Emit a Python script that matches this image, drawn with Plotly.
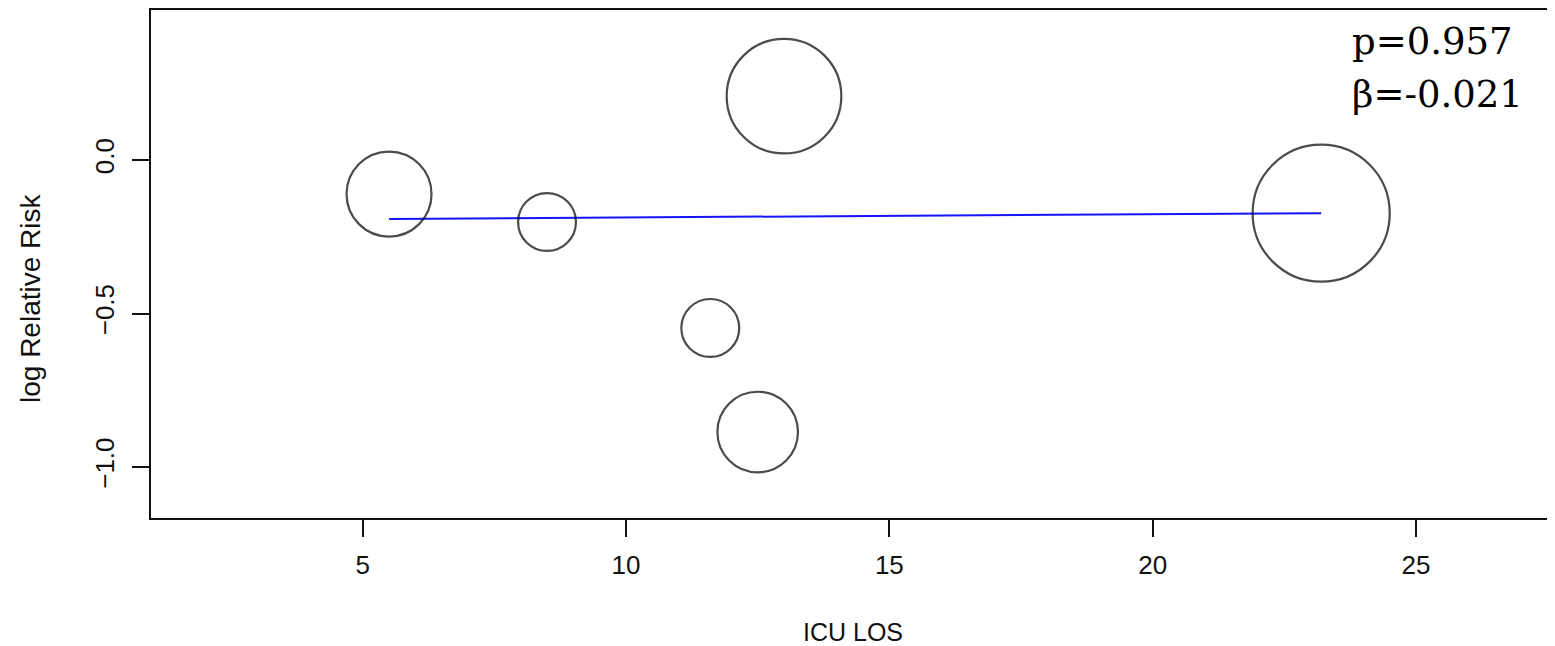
import plotly.graph_objects as go

# Study-level data
icu_los = [5.5, 8.5, 13.0, 11.6, 12.5, 23.2]
log_rr = [-0.111, -0.202, 0.208, -0.547, -0.886, -0.173]
weights = [13.8, 6.4, 25.1, 6.4, 12.4, 35.9]

# Meta-regression fitted line endpoints
fit_x = [5.5, 23.2]
fit_y = [-0.192, -0.173]

x_ticks = [5, 10, 15, 20, 25]
y_ticks = [0.0, -0.5, -1.0]
y_ticklabels = ["0.0", "\u22120.5", "\u22121.0"]

stats_lines = ["p=0.957", "\u03b2=-0.021"]

# page body has an 8px margin, so the figure is shifted by 8px
OFF = 8
W, H = 1555 - OFF, 646 - OFF
ML, MR, MT = 151 - OFF, 0, 10 - OFF
PLOT_H = 508
MB = H - MT - PLOT_H

fig = go.Figure()
fig.add_trace(go.Scatter(
    x=fit_x, y=fit_y, mode="lines",
    line=dict(color="rgb(20,20,255)", width=2),
    hoverinfo="skip", showlegend=False,
))
fig.add_trace(go.Scatter(
    x=icu_los, y=log_rr, mode="markers",
    marker=dict(
        size=weights, sizemode="area", sizeref=100 / 26181,
        color="rgba(0,0,0,0)",
        line=dict(color="black", width=2.2),
    ),
    showlegend=False,
))

tick_font = dict(family="Liberation Sans, Arial, sans-serif", size=26, color="#111")
title_font = dict(family="Liberation Sans, Arial, sans-serif", size=25, color="#111")

fig.update_xaxes(
    range=[0.98, 27.64],
    tickvals=x_ticks, ticktext=[str(v) for v in x_ticks],
    ticks="outside", ticklen=17, tickwidth=2, tickcolor="#111",
    showline=True, linewidth=2, linecolor="#111", mirror=True,
    showgrid=False, zeroline=False,
    tickfont=tick_font, ticklabelstandoff=6,
    title=dict(text="ICU LOS", font=title_font, standoff=44),
)
fig.update_yaxes(
    range=[-1.166, 0.4886],
    tickvals=y_ticks, ticktext=y_ticklabels,
    ticks="outside", ticklen=17, tickwidth=2, tickcolor="#111",
    showline=True, linewidth=2, linecolor="#111", mirror=False,
    showgrid=False, zeroline=False, tickangle=-90,
    tickfont=tick_font, ticklabelstandoff=8,
)

plot_w = W - ML - MR


def page_to_paper_y(py):
    return 1 - (py - 10) / PLOT_H


def page_to_paper_x(px):
    return (px - 151) / plot_w


# y-axis title (sits a little below the plot centre in the reference)
fig.add_annotation(
    text="log Relative Risk", textangle=-90, xref="paper", yref="paper",
    x=page_to_paper_x(30), y=page_to_paper_y(298),
    xanchor="center", yanchor="middle", showarrow=False,
    font=dict(family="Liberation Sans, Arial, sans-serif", size=28, color="#111"),
)

serif = dict(family="DejaVu Serif, Liberation Serif, serif", size=37, color="black")
for i, txt in enumerate(stats_lines):
    cy = 41 + 53 * i  # pixel centre of line (page coords)
    fig.add_annotation(
        text=txt, xref="paper", yref="paper",
        x=page_to_paper_x(1350), y=page_to_paper_y(cy),
        xanchor="left", yanchor="middle", showarrow=False, font=serif,
    )

fig.update_layout(
    width=W, height=H,
    margin=dict(l=ML, r=MR, t=MT, b=MB),
    paper_bgcolor="white", plot_bgcolor="white",
)
fig.write_html("out.html")
